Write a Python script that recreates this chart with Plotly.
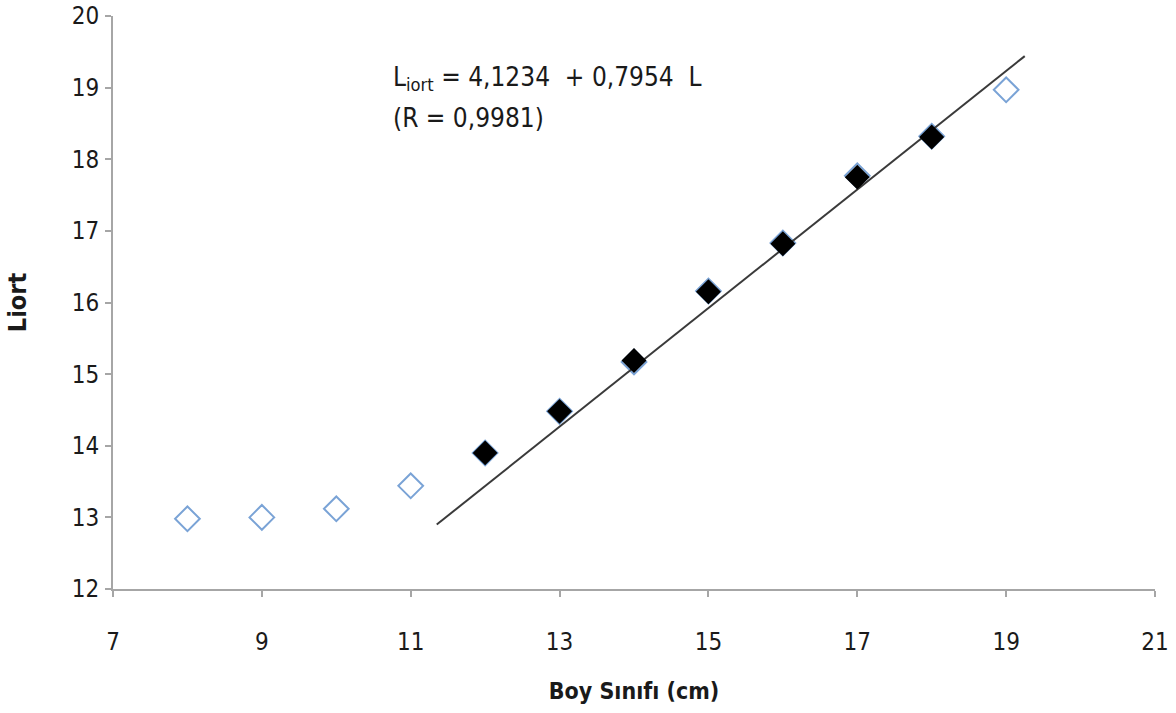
import plotly.graph_objects as go

# Data
size_class = [8, 9, 10, 11, 12, 13, 14, 15, 16, 17, 18, 19]
l_mean_all = [12.98, 13.00, 13.12, 13.44, 13.90, 14.48, 15.17, 16.16, 16.83, 17.77, 18.32, 18.97]
size_fit = [12, 13, 14, 15, 16, 17, 18]
l_mean_fit = [13.90, 14.48, 15.19, 16.15, 16.82, 17.75, 18.31]
line_x = [11.35, 19.25]
line_y = [12.9, 19.44]

FONT = "DejaVu Sans Condensed, Liberation Sans Narrow, Liberation Sans, sans-serif"
AX = "#a6a6a6"

fig = go.Figure()
fig.add_trace(go.Scatter(
    x=size_class, y=l_mean_all, mode="markers",
    marker=dict(symbol="diamond-open", size=19, color="#7aa3d6", line=dict(width=2, color="#7aa3d6")),
    showlegend=False, hoverinfo="skip"))
fig.add_trace(go.Scatter(
    x=line_x, y=line_y, mode="lines",
    line=dict(color="#3a3a3a", width=2),
    showlegend=False, hoverinfo="skip"))
fig.add_trace(go.Scatter(
    x=size_fit, y=l_mean_fit, mode="markers",
    marker=dict(symbol="diamond", size=17, color="black", line=dict(width=2, color="black")),
    showlegend=False, hoverinfo="skip"))

fig.add_annotation(
    xref="x", yref="y", x=10.73, y=19.13, xanchor="left", yanchor="middle",
    text="L<sub>iort</sub> = 4,1234  + 0,7954  L", showarrow=False, align="left",
    font=dict(family=FONT, size=26, color="#1a1a1a"))
fig.add_annotation(
    xref="x", yref="y", x=10.73, y=18.58, xanchor="left", yanchor="middle",
    text="(R = 0,9981)", showarrow=False, align="left",
    font=dict(family=FONT, size=26, color="#1a1a1a"))

fig.update_layout(
    width=1176, height=713,
    margin=dict(l=113, r=21, t=16, b=124),
    paper_bgcolor="white", plot_bgcolor="white",
    font=dict(family=FONT, size=24, color="#1a1a1a"),
)
fig.update_xaxes(
    range=[7, 21], tickmode="array", tickvals=[7, 9, 11, 13, 15, 17, 19, 21],
    showgrid=False, zeroline=False, showline=True, linecolor=AX, linewidth=2,
    ticks="outside", ticklen=6, tickcolor=AX, tickwidth=2, automargin=False,
    ticklabelstandoff=24, ticklabeloverflow="allow",
    title=dict(text="<b>Boy Sınıfı (cm)</b>", font=dict(family=FONT, size=23), standoff=28),
)
fig.update_yaxes(
    range=[12, 20], tickmode="array", tickvals=list(range(12, 21)),
    showgrid=False, zeroline=False, showline=True, linecolor=AX, linewidth=2,
    ticks="outside", ticklen=6, tickcolor=AX, tickwidth=2, automargin=False,
    ticklabelstandoff=1, ticklabeloverflow="allow",
    title=dict(text="<b>Liort</b>", font=dict(family=FONT, size=25), standoff=38),
)

fig.write_html("out.html", config={"displayModeBar": False},
               post_script="document.body.style.margin='0';")
